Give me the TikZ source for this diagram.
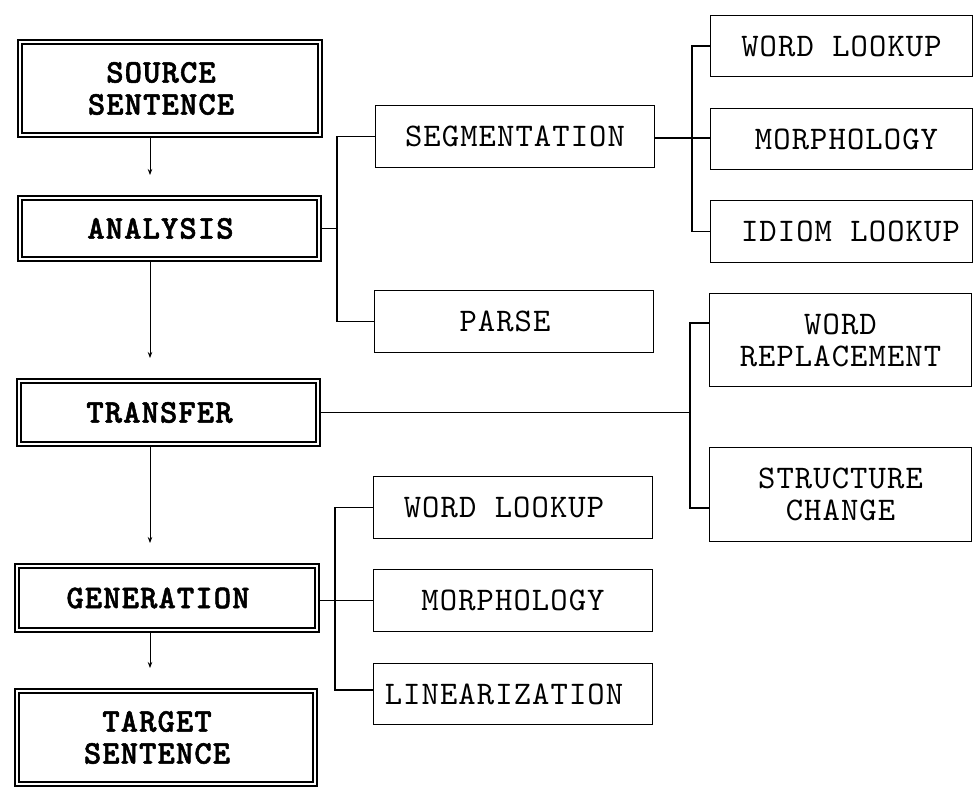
\documentclass[tikz,border=0pt]{standalone}
\usepackage{fontspec}
\newfontfamily\monoreg{lmmono10-regular.otf}[LetterSpace=3.3]
\newfontfamily\monobold{lmmonolt10-bold.otf}[LetterSpace=3.3,FakeBold=1.6]
\usetikzlibrary{arrows.meta}
\newcommand{\lsh}{\hspace*{18pt}}
\begin{document}
\begin{tikzpicture}[x=1pt,y=-1pt,
  every node/.style={inner sep=0pt,align=center,font=\monoreg\fontsize{33}{32}\selectfont},
  sbox/.style={draw=black,line width=1.4pt,fill=white},
  dbox/.style={draw=black,line width=1.8pt,fill=white,font=\monobold\fontsize{33}{32}\selectfont},
  inner/.style={draw=black,line width=1.1pt},
  link/.style={draw=black,line width=1.3pt},
  flow/.style={draw=black,line width=0.8pt,shorten >=20pt,-{Stealth[length=6pt,width=4.5pt]}}
]
\useasboundingbox[fill=white] (0,0) rectangle (979,797);

% left column (double boxes)
\node[dbox,minimum width=304.2pt,minimum height=97.2pt] (src) at (170,88.5) {SOURCE\lsh\\SENTENCE\lsh};
\node[dbox,minimum width=303.2pt,minimum height=65.2pt] (ana) at (169.5,228.5) {ANALYSIS\lsh};
\node[dbox,minimum width=303.2pt,minimum height=67.2pt] (tra) at (168.5,412.5) {TRANSFER\lsh};
\node[dbox,minimum width=304.2pt,minimum height=68.2pt] (gen) at (167,598) {GENERATION\lsh};
\node[dbox,minimum width=302.2pt,minimum height=97.2pt] (tar) at (166,737.5) {TARGET\lsh\\SENTENCE\lsh};
\foreach \n in {src,ana,tra,gen,tar}
  \draw[inner] ([xshift=5pt,yshift=-5pt]\n.north west) rectangle ([xshift=-5pt,yshift=5pt]\n.south east);

% middle column
\node[sbox,minimum width=278.6pt,minimum height=61.6pt] (seg) at (515,136.5) {SEGMENTATION};
\node[sbox,minimum width=278.6pt,minimum height=61.6pt] (par) at (514,321.5) {PARSE\lsh};
\node[sbox,minimum width=278.6pt,minimum height=61.6pt] (wl2) at (513,507.5) {WORD LOOKUP\lsh};
\node[sbox,minimum width=278.6pt,minimum height=61.6pt] (mo2) at (513,600.5) {MORPHOLOGY};
\node[sbox,minimum width=278.6pt,minimum height=60.6pt] (lin) at (513,694) {LINEARIZATION\lsh};

% right column
\node[sbox,minimum width=261.6pt,minimum height=60.6pt] (wl1) at (841.5,46) {WORD LOOKUP};
\node[sbox,minimum width=261.6pt,minimum height=60.6pt] (mo1) at (841.5,139) {\hspace*{10pt}MORPHOLOGY};
\node[sbox,minimum width=261.6pt,minimum height=61.6pt] (idi) at (841.5,231.5) {\hspace*{18pt}IDIOM LOOKUP};
\node[sbox,minimum width=261.6pt,minimum height=92.6pt] (wre) at (840.5,340) {WORD\\REPLACEMENT};
\node[sbox,minimum width=261.6pt,minimum height=93.6pt] (stc) at (840.5,494.5) {STRUCTURE\\CHANGE};

% bracket junctions
\coordinate (ja) at (337,228.5);
\coordinate (js) at (692,138);
\coordinate (t1) at (690,323);
\coordinate (t2) at (690,508);
\coordinate (g2) at (335,690);

% analysis -> segmentation / parse
\draw[link] (ana.east) -- (ja);
\draw[link] (seg.west) -| (ja) |- (par.west);
% segmentation -> lookup / morphology / idiom
\draw[link] (seg.east |- js) -- (js -| mo1.west);
\draw[link] (wl1.west) -| (js) |- (idi.west);
% transfer -> replacement / structure
\draw[link] (tra.east) -- (tra.east -| t1);
\draw[link] (t1 -| wre.west) -- (t1) -- (t2) -- (t2 -| stc.west);
% generation -> lookup / morphology / linearization
\draw[link] (gen.east |- mo2.west) -- (mo2.west);
\draw[link] (wl2.west) -| (g2) -- (g2 -| lin.west);

% main flow arrows
\coordinate (ax) at (150,0);
\draw[flow] (src.south -| ax) -- (ana.north -| ax);
\draw[flow] (ana.south -| ax) -- (tra.north -| ax);
\draw[flow] (tra.south -| ax) -- (gen.north -| ax);
\draw[flow] (gen.south -| ax) -- (tar.north -| ax);
\end{tikzpicture}
\end{document}
